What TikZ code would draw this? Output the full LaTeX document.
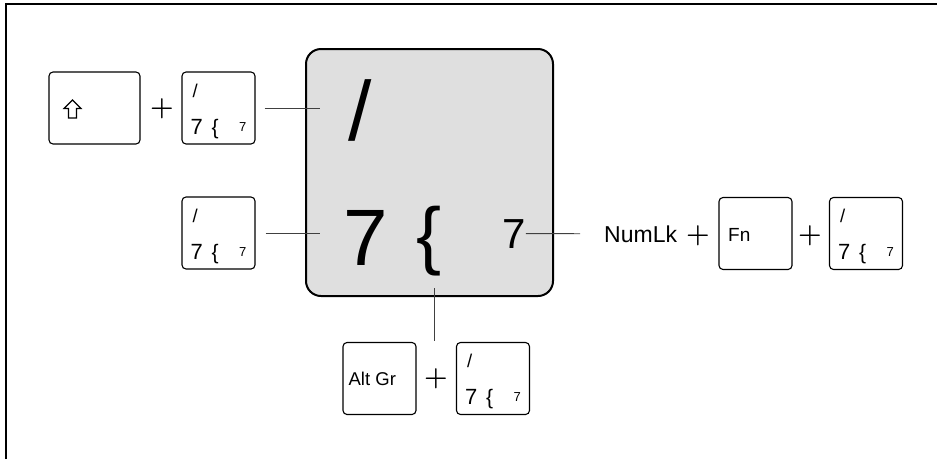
\documentclass[tikz,border=0pt]{standalone}
\usepackage{fontspec}
\setmainfont{Liberation Sans}
\newfontfamily\plusfont{Latin Modern Roman}
\usetikzlibrary{positioning,calc}

\begin{document}
\begin{tikzpicture}[x=1pt,y=-1pt]
    % Stili
    \tikzset{
        keycap/.style={rectangle, draw, line width=1.1pt, rounded corners=4pt, minimum width=73pt, minimum height=72pt, inner sep=0pt},
        bigkey/.style={rectangle, draw, line width=2pt, rounded corners=15pt, fill=gray!25, minimum width=247pt, minimum height=247pt, inner sep=0pt},
        keytext/.style={inner sep=0pt, anchor=base west},
        plussign/.style={inner sep=0pt, anchor=base, font=\plusfont\bfseries\fontsize{27}{27}\selectfont},
        conn/.style={draw=black!75, line width=0.9pt}
    }
    \useasboundingbox (0,0) rectangle (937,459);

    % Cornice
    \draw[line width=2pt] (5.5,459) -- (5.5,4.3) -- (937,4.3);

    % Tasto grande
    \node[bigkey] (big) at (429.5,172.5) {};
    \node[keytext, font=\fontsize{84}{84}\selectfont] (bigslash) at (348,140) {/};
    \node[keytext, font=\fontsize{80}{80}\selectfont] (bigseven) at (343,265) {7};
    \node[keytext, font=\fontsize{75}{75}\selectfont] (bigbrace) at (416.5,260) {\{};
    \node[keytext, font=\fontsize{42}{42}\selectfont] (smallseven) at (502,248) {7};

    % Tasti
    \node[keycap, minimum width=91pt] (shift) at (94.5,108) {};
    \draw[line width=1.1pt] (68.5,118) -- (68.5,108.5) -- (64,108.5) -- (72.5,100)
        -- (81,108.5) -- (76.5,108.5) -- (76.5,118) -- cycle;
    \node[keycap] (numA) at (218.5,108) {};
    \node[keycap] (numB) at (218.5,233) {};
    \node[keycap] (fnkey) at (755.5,233.5) {};
    \node[keycap] (numC) at (866,233.5) {};
    \node[keycap] (altgr) at (379.5,378.5) {};
    \node[keycap] (numD) at (493,378.5) {};

    % Scritte dei tasti
    \foreach \k in {numA,numB,numC,numD} {
        \node[keytext, font=\fontsize{18.5}{19}\selectfont] at ($(\k.north west)+(11,26)$) {/};
        \node[keytext, font=\fontsize{22}{22}\selectfont] at ($(\k.north west)+(9,63)$) {7};
        \node[keytext, font=\fontsize{21}{22}\selectfont] at ($(\k.north west)+(30,63)$) {\{};
        \node[keytext, font=\fontsize{13}{13}\selectfont] at ($(\k.north west)+(57.5,60)$) {7};
    }
    \node[keytext, font=\fontsize{19}{19}\selectfont] (fntext) at ($(fnkey.north west)+(9.5,45)$) {Fn};
    \node[keytext, font=\fontsize{18.5}{19}\selectfont] (altgrtext) at ($(altgr.north west)+(6,44)$) {Alt Gr};
    \node[keytext, font=\fontsize{23}{23}\selectfont] (numlk) at (604,242) {NumLk};

    % Segni piu
    \node[plussign] (plusA) at (162,115.75) {+};
    \node[plussign] (plusB) at (698,242.75) {+};
    \node[plussign] (plusC) at (810,242.75) {+};
    \node[plussign] (plusD) at (436,385.75) {+};

    % Collegamenti
    \coordinate (pslash) at (320,108);
    \coordinate (pseven) at (320,233);
    \coordinate (pbrace) at (434,288);
    \draw[conn, shorten <=9pt] (numA.east) -- (pslash);
    \draw[conn, shorten <=10pt] (numB.east) -- (pseven);
    \draw[conn, shorten >=24pt] (smallseven.east) -- (numlk.west);
    \draw[conn, shorten >=1pt] (pbrace) -- (pbrace |- altgr.north);
\end{tikzpicture}
\end{document}
